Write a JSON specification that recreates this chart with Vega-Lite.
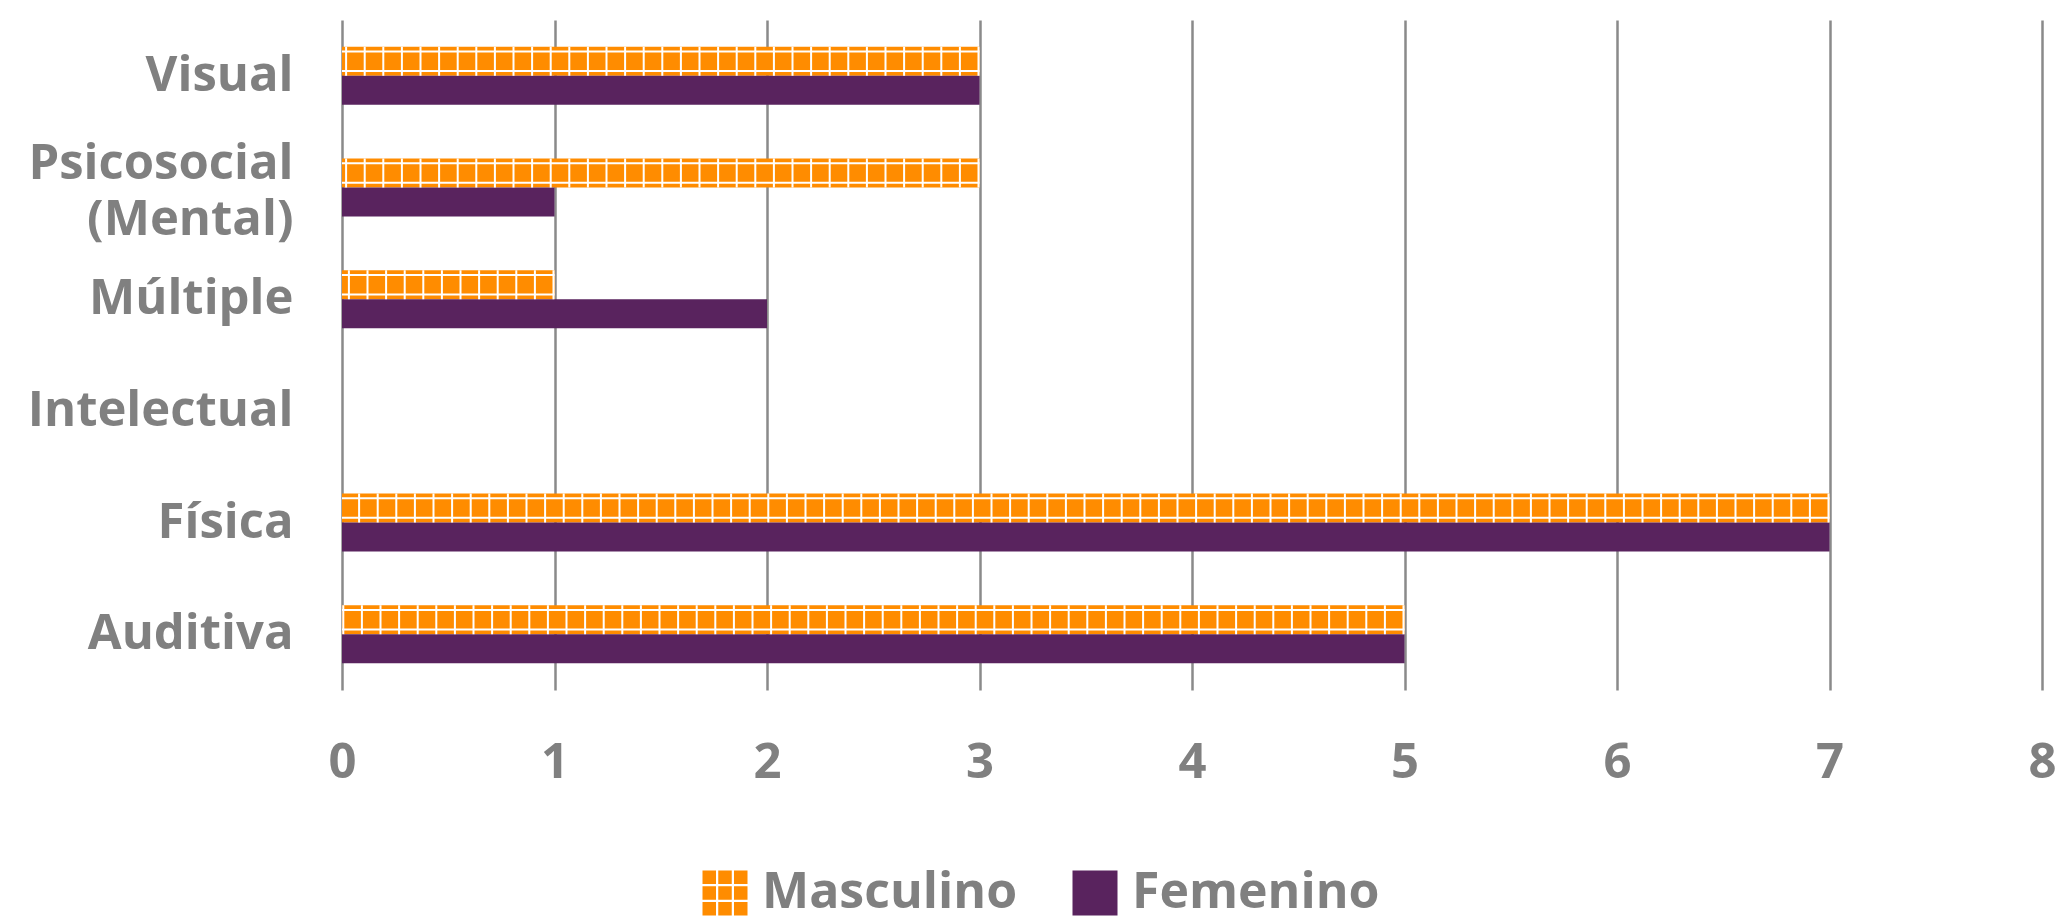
{
  "$schema": "https://vega.github.io/schema/vega-lite/v6.json",
  "width": 1700,
  "height": 670,
  "autosize": {"type": "none"},
  "padding": {"left": 342, "top": 20, "right": 14, "bottom": 232},
  "background": "white",
  "data": {"values": [
    {"tipo": "Visual", "sexo": "Masculino", "valor": 3},
    {"tipo": "Visual", "sexo": "Femenino", "valor": 3},
    {"tipo": "Psicosocial (Mental)", "sexo": "Masculino", "valor": 3},
    {"tipo": "Psicosocial (Mental)", "sexo": "Femenino", "valor": 1},
    {"tipo": "Múltiple", "sexo": "Masculino", "valor": 1},
    {"tipo": "Múltiple", "sexo": "Femenino", "valor": 2},
    {"tipo": "Intelectual", "sexo": "Masculino", "valor": 0},
    {"tipo": "Intelectual", "sexo": "Femenino", "valor": 0},
    {"tipo": "Física", "sexo": "Masculino", "valor": 7},
    {"tipo": "Física", "sexo": "Femenino", "valor": 7},
    {"tipo": "Auditiva", "sexo": "Masculino", "valor": 5},
    {"tipo": "Auditiva", "sexo": "Femenino", "valor": 5}
  ]},
  "encoding": {
    "y": {
      "field": "tipo", "type": "nominal",
      "scale": {"domain": ["Visual", "Psicosocial (Mental)", "Múltiple", "Intelectual", "Física", "Auditiva"], "paddingInner": 0.48, "paddingOuter": 0.24},
      "axis": {
        "title": null, "ticks": false, "domain": false, "labelPadding": 49,
        "labelFont": "Open Sans", "labelFontWeight": "bold", "labelFontSize": 49, "labelColor": "#808080",
        "labelLineHeight": 56, "labelLimit": 400, "labelOverlap": false,
        "labelOffset": {"condition": {"test": "datum.value == 'Psicosocial (Mental)'", "value": -24}, "value": 0},
        "labelExpr": "datum.label == 'Psicosocial (Mental)' ? ['Psicosocial', '(Mental)'] : datum.label"
      }
    },
    "yOffset": {"field": "sexo", "type": "nominal", "scale": {"domain": ["Masculino", "Femenino"], "paddingInner": 0, "paddingOuter": 0}}
  },
  "layer": [
    {
      "mark": {"type": "bar"},
      "encoding": {
        "x": {
          "field": "valor", "type": "quantitative",
          "scale": {"domain": [0, 8], "nice": false},
          "axis": {
            "title": null, "values": [0,1,2,3,4,5,6,7,8], "format": "d", "ticks": false, "domain": false,
            "grid": true, "gridColor": "#8a8a8a", "gridWidth": 2.5,
            "labelFont": "Open Sans", "labelFontWeight": "bold", "labelFontSize": 49, "labelColor": "#808080",
            "labelPadding": 48, "labelFlush": false, "labelOverlap": false
          }
        },
        "color": {
          "field": "sexo", "type": "nominal",
          "scale": {"domain": ["Masculino", "Femenino"], "range": ["#FF8C00", "#59235E"]},
          "legend": {
            "title": null, "orient": "none", "legendX": 358, "legendY": 848, "direction": "horizontal",
            "symbolSize": 2025, "symbolStrokeWidth": 0, "symbolOpacity": 1,
            "labelFont": "Open Sans", "labelFontWeight": "bold", "labelFontSize": 50, "labelColor": "#808080",
            "labelOffset": 12, "columnPadding": 52, "labelLimit": 400,
            "encode": {"symbols": {"update": {"shape": {"signal": "datum.value === 'Masculino' ? 'M-1,-1h0.6v0.6h-0.6Z M-0.3,-1h0.6v0.6h-0.6Z M0.4,-1h0.6v0.6h-0.6Z M-1,-0.3h0.6v0.6h-0.6Z M-0.3,-0.3h0.6v0.6h-0.6Z M0.4,-0.3h0.6v0.6h-0.6Z M-1,0.4h0.6v0.6h-0.6Z M-0.3,0.4h0.6v0.6h-0.6Z M0.4,0.4h0.6v0.6h-0.6Z' : 'square'"}}}}
          }
        }
      }
    },
    {
      "transform": [{"filter": "datum.sexo == 'Masculino' && datum.valor > 0"}],
      "mark": {"type": "rule", "color": "white", "strokeWidth": 21.5, "strokeCap": "butt"},
      "encoding": {"x": {"field": "valor", "type": "quantitative"}, "x2": {"datum": 0}}
    },
    {
      "transform": [{"filter": "datum.sexo == 'Masculino' && datum.valor > 0"}],
      "mark": {"type": "rule", "color": "#FF8C00", "strokeWidth": 17.5, "strokeCap": "butt"},
      "encoding": {"x": {"field": "valor", "type": "quantitative"}, "x2": {"datum": 0}}
    },
    {
      "transform": [{"filter": "datum.sexo == 'Masculino' && datum.valor > 0"}],
      "mark": {"type": "rule", "color": "white", "strokeWidth": 29, "strokeCap": "butt", "strokeDash": [2, 16.6]},
      "encoding": {"x": {"field": "valor", "type": "quantitative"}, "x2": {"datum": 0}}
    }
  ],
  "config": {"view": {"stroke": null}}
}
